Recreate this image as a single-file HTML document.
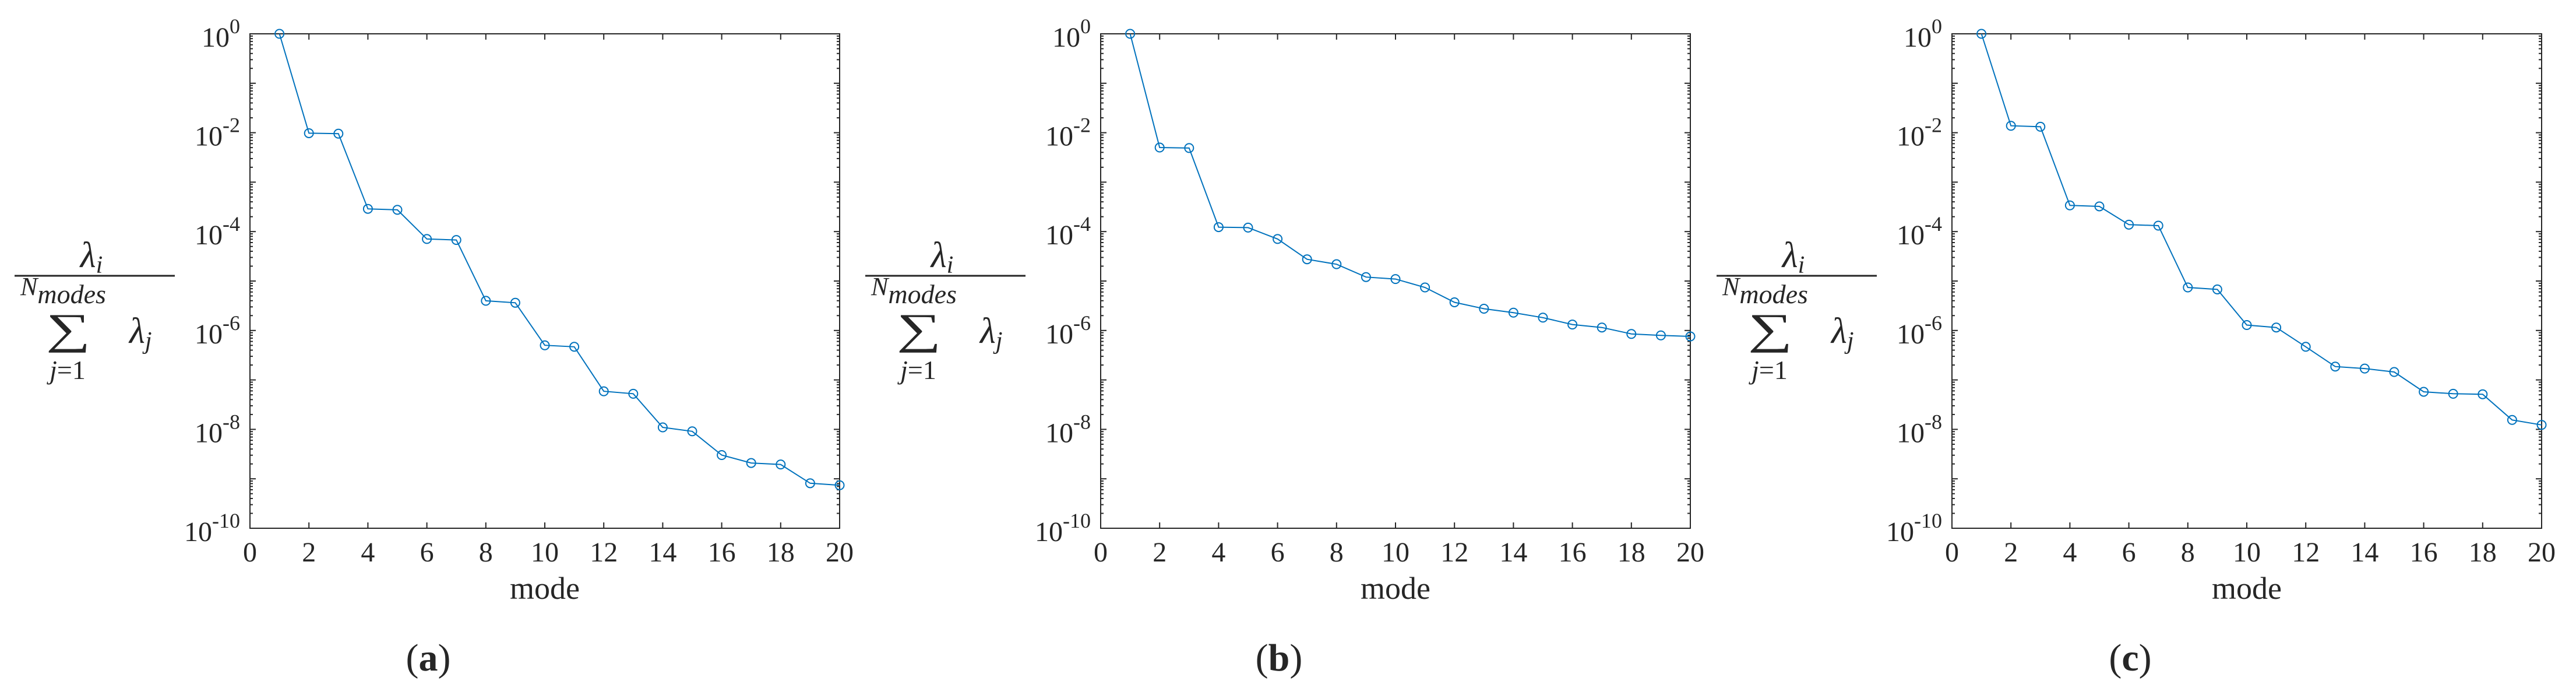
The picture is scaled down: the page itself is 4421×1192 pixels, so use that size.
<!DOCTYPE html>
<html><head><meta charset="utf-8"><style>
html,body{margin:0;padding:0;background:#fff;}
svg{display:block;}
text{font-family:"Liberation Serif","DejaVu Serif",serif;fill:#262626;}
</style></head><body>
<svg id="fig" width="4421" height="1192" viewBox="0 0 4421 1192" xmlns="http://www.w3.org/2000/svg"></svg>
<script>
const modes = [1,2,3,4,5,6,7,8,9,10,11,12,13,14,15,16,17,18,19,20];
const seriesA = [0,-2.01,-2.02,-3.54,-3.56,-4.15,-4.17,-5.40,-5.44,-6.30,-6.33,-7.23,-7.28,-7.96,-8.04,-8.52,-8.68,-8.71,-9.09,-9.13].map(e=>Math.pow(10,e));
const seriesB = [0,-2.30,-2.31,-3.91,-3.92,-4.15,-4.56,-4.66,-4.92,-4.96,-5.13,-5.43,-5.56,-5.64,-5.74,-5.88,-5.94,-6.07,-6.10,-6.12].map(e=>Math.pow(10,e));
const seriesC = [0,-1.86,-1.88,-3.47,-3.49,-3.86,-3.88,-5.13,-5.17,-5.89,-5.94,-6.33,-6.73,-6.77,-6.84,-7.24,-7.28,-7.29,-7.81,-7.91].map(e=>Math.pow(10,e));
const xTicks = [0,2,4,6,8,10,12,14,16,18,20];
const yTickExps = [0,-2,-4,-6,-8,-10];
const captions = ["a","b","c"];

const NS="http://www.w3.org/2000/svg";
const svg=document.getElementById('fig');
function mk(tag,attrs,parent){const e=document.createElementNS(NS,tag);for(const k in attrs)e.setAttribute(k,attrs[k]);(parent||svg).appendChild(e);return e;}

const panels=[{off:0,data:seriesA},{off:1460,data:seriesB},{off:2921,data:seriesC}];
const L=429,R=1441,T=58,B=906;
function xs(v){return L+(v-0)/(20-0)*(R-L);}
function ys(v){const e=Math.log10(v);return T+(0-e)/(0-(-10))*(B-T);}

panels.forEach((p,pi)=>{
  const g=mk('g',{transform:`translate(${p.off},0)`});
  
  
  const box=mk('rect',{x:L,y:T,width:R-L,height:B-T,fill:'none',stroke:'#262626','stroke-width':2},g);
  
  
  xTicks.forEach(t=>{
    const x=xs(t);
    mk('line',{x1:x,y1:B,x2:x,y2:B-10,stroke:'#262626','stroke-width':2},g);
    mk('line',{x1:x,y1:T,x2:x,y2:T+10,stroke:'#262626','stroke-width':2},g);
    const tx=mk('text',{x:x,y:963,'font-size':48,'text-anchor':'middle'},g);
    tx.textContent=t;
    
    
  });
  for(let d=0;d>-10;d--){
    for(let m=1;m<=9;m++){
      const y=ys(m*Math.pow(10,d-1));
      const len=m===1?10:5;
      mk('line',{x1:L,y1:y,x2:L+len,y2:y,stroke:'#262626','stroke-width':2},g);
      mk('line',{x1:R,y1:y,x2:R-len,y2:y,stroke:'#262626','stroke-width':2},g);
    }
  }
  yTickExps.forEach(e=>{
    const y=ys(Math.pow(10,e));
    const tx=mk('text',{x:412,y:y+22,'font-size':48,'text-anchor':'end'},g);
    
    
    const a=mk('tspan',{},tx);a.textContent='10';
    const b=mk('tspan',{dy:-23,'font-size':36},tx);b.textContent=String(e);
  });
  const pts=p.data.map((v,i)=>xs(modes[i]).toFixed(1)+','+ys(v).toFixed(1)).join(' ');
  const line=mk('polyline',{points:pts,fill:'none',stroke:'#0072BD','stroke-width':2},g);
  
  
  p.data.forEach((v,i)=>{
    const c=mk('circle',{cx:xs(modes[i]),cy:ys(v),r:7.5,fill:'none',stroke:'#0072BD','stroke-width':2},g);
    
    
  });
  const xl=mk('text',{x:935,y:1027,'font-size':54,'text-anchor':'middle'},g);
  xl.textContent='mode';
  
  
  const yl=mk('g',{},g);
  
  
  const t1=mk('text',{x:157,y:458,'font-size':62,'font-style':'italic','text-anchor':'middle'},yl);
  const t1a=mk('tspan',{},t1);t1a.textContent='λ';
  const t1b=mk('tspan',{dy:10,'font-size':42},t1);t1b.textContent='i';
  mk('line',{x1:25,y1:473,x2:300,y2:473,stroke:'#262626','stroke-width':3},yl);
  const t2=mk('text',{x:35,y:506,'font-size':44,'font-style':'italic'},yl);
  const t2a=mk('tspan',{},t2);t2a.textContent='N';
  const t2b=mk('tspan',{dy:14,'font-size':46},t2);t2b.textContent='modes';
  const t3=mk('text',{x:0,y:0,'font-size':74,'text-anchor':'middle',transform:'translate(117,589) scale(1.45,1)'},yl);t3.textContent='∑';
  const t4=mk('text',{x:222,y:588,'font-size':62,'font-style':'italic'},yl);
  const t4a=mk('tspan',{},t4);t4a.textContent='λ';
  const t4b=mk('tspan',{dy:10,'font-size':42},t4);t4b.textContent='j';
  const t5=mk('text',{x:116,y:650,'font-size':46,'text-anchor':'middle'},yl);
  const t5a=mk('tspan',{'font-style':'italic'},t5);t5a.textContent='j';
  const t5b=mk('tspan',{},t5);t5b.textContent='=1';
  const cap=mk('text',{x:735,y:1150,'font-size':66,'text-anchor':'middle'},g);
  
  
  const c1=mk('tspan',{},cap);c1.textContent='(';
  const c2=mk('tspan',{'font-weight':'bold'},cap);c2.textContent=captions[pi];
  const c3=mk('tspan',{},cap);c3.textContent=')';
});
</script>
</body></html>
